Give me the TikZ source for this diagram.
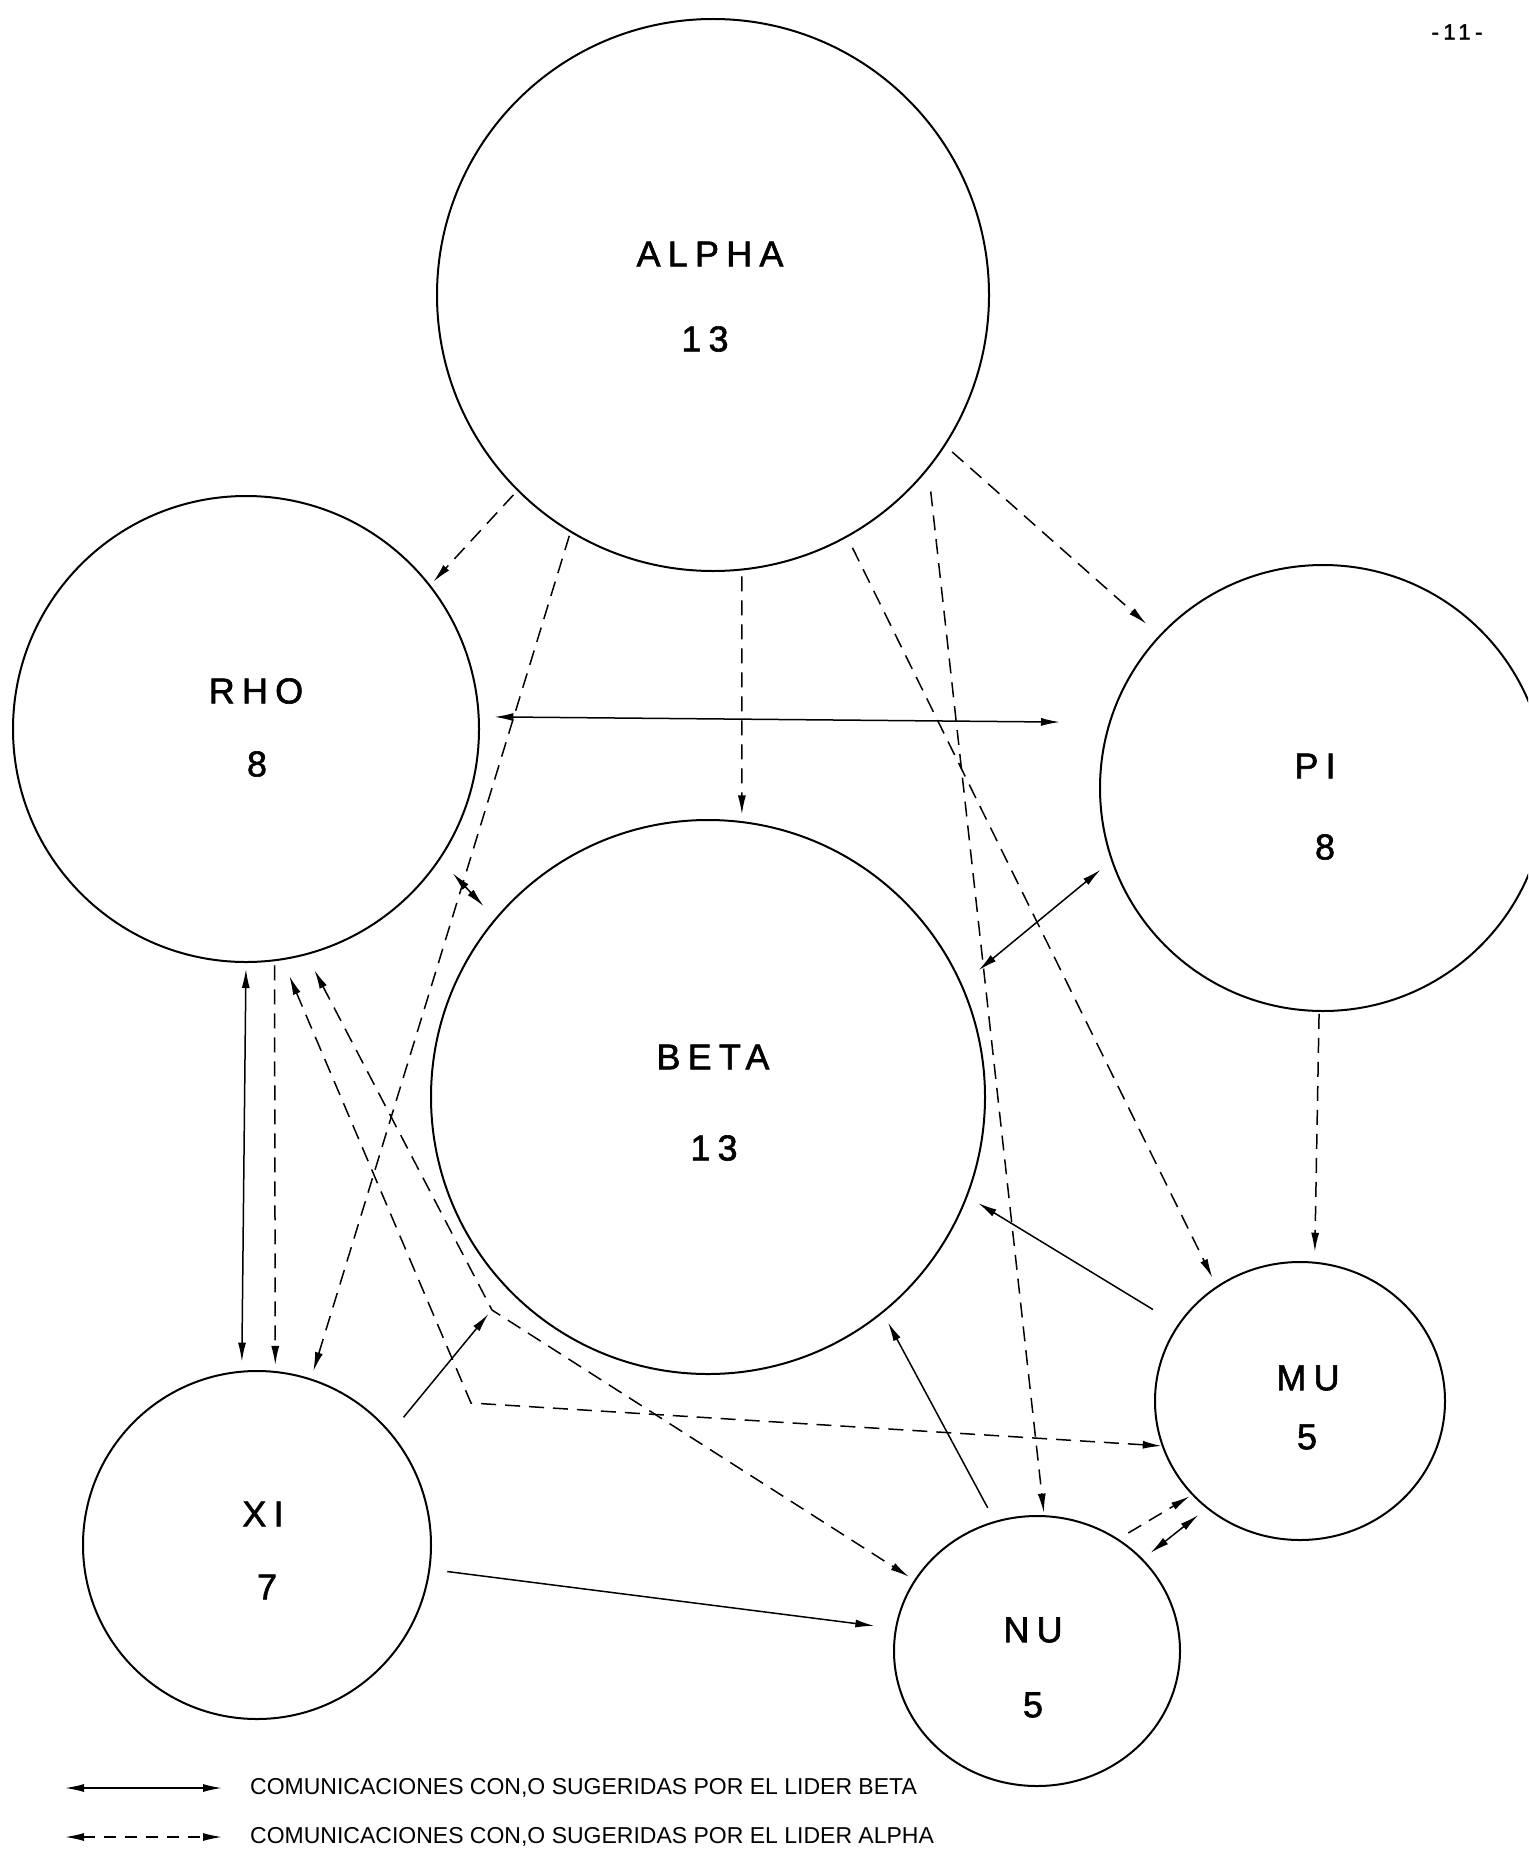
\documentclass[tikz,border=0pt]{standalone}
\usepackage{fontspec}
\setmainfont{Liberation Sans}
\newfontfamily\grpfont[LetterSpace=20,FakeBold=1.6]{Liberation Sans}
\usetikzlibrary{arrows.meta,shapes.geometric}

\tikzset{
  >={Latex[length=19pt,width=8pt]},
  grp/.style={draw, circle, line width=2pt, inner sep=0pt, minimum size=#1},
  grpo/.style 2 args={draw, ellipse, line width=2pt, inner sep=0pt, minimum width=#1, minimum height=#2},
  grptxt/.style={inner sep=0pt, font=\grpfont\fontsize{36}{36}\selectfont},
  sol/.style={line width=1.5pt},
  das/.style={line width=1.5pt, dash pattern=on 15pt off 9pt},
  legtxt/.style={anchor=west, inner sep=0pt, font=\fontsize{23}{23}\selectfont},
}

\begin{document}
\begin{tikzpicture}[x=1pt, y=-1pt]
  \useasboundingbox (0,0) rectangle (1528,1854);
  \clip (0,0) rectangle (1528,1854);

  % groups
  \node[grp=552] (alpha) at (713,295) {};
  \node[grp=466] (rho) at (246,729) {};
  \node[grp=446] (pi) at (1323,788) {};
  \node[grp=554] (beta) at (708,1097) {};
  \node[grp=348] (xi) at (257,1545) {};
  \node[grpo={290}{278}] (mu) at (1300,1401) {};
  \node[grpo={286}{270}] (nu) at (1037,1651) {};

  \node[grptxt] (alphaName) at (710,254) {ALPHA};
  \node[grptxt] (alphaNum) at (705,339) {13};
  \node[grptxt] (rhoName) at (256,691) {RHO};
  \node[grptxt] (rhoNum) at (257,764) {8};
  \node[grptxt] (piName) at (1315,766) {PI};
  \node[grptxt] (piNum) at (1325,847) {8};
  \node[grptxt] (betaName) at (713,1057) {BETA};
  \node[grptxt] (betaNum) at (714,1148) {13};
  \node[grptxt] (xiName) at (263,1514) {XI};
  \node[grptxt] (xiNum) at (267,1587) {7};
  \node[grptxt] (muName) at (1308,1378) {MU};
  \node[grptxt] (muNum) at (1307,1437) {5};
  \node[grptxt] (nuName) at (1033,1630) {NU};
  \node[grptxt] (nuNum) at (1033,1705) {5};

  \node[grptxt, font=\grpfont\fontsize{22}{22}\selectfont] (pageNo) at (1457,32) {-11-};

  % leader beta
  \draw[sol, <->, shorten <=14.6pt, shorten >=48.8pt] (rho.3.9) -- (pi.163.9);
  \draw[sol, <->, shorten <=18.3pt, shorten >=16.5pt] (rho.-34.7) -- (beta.140.9);
  \draw[sol, <->, shorten <=13.7pt, shorten >=21.4pt] (pi.-161.3) -- (beta.24.9);
  \draw[sol, ->, shorten <=29pt, shorten >=12.3pt] (mu.148.5) -- (beta.-21.1);
  \draw[sol, ->, shorten <=15pt, shorten >=10.7pt] (nu.108.3) -- (beta.-51.1);
  \draw[sol, ->, shorten <=19.7pt, shorten >=30.7pt] (xi.40.5) -- (beta.-136);
  \draw[sol, ->, shorten <=17.1pt, shorten >=20.8pt] (xi.-8.6) -- (nu.171.8);
  \draw[sol, <->, shorten <=6pt, shorten >=9pt] (rho.-90.7) -- (xi.95.6);
  \draw[sol, <->, shorten <=9.7pt, shorten >=10.3pt] (nu.41.7) -- (mu.-131);

  % leader alpha
  \coordinate (bendA) at (471,1403);
  \coordinate (bendB) at (492,1310);
  \draw[das, ->, shorten <=5.5pt, shorten >=4.2pt] (alpha.-135.6) -- (rho.38.1);
  \draw[das, ->, shorten <=3.5pt, shorten >=7.8pt] (alpha.-121) -- (xi.72);
  \draw[das, ->, shorten <=6pt, shorten >=6.6pt] (alpha.-84.2) -- (beta.83.8);
  \draw[das, ->, shorten <=9.2pt, shorten >=17pt] (alpha.-33.9) -- (pi.137.8);
  \draw[das, ->, shorten <=11.7pt, shorten >=9.4pt] (alpha.-61.5) -- (mu.126.4);
  \draw[das, ->, shorten <=22.3pt, shorten >=2.6pt] (alpha.-39.3) -- (nu.87);
  \draw[das, ->, shorten <=2pt, shorten >=10pt] (pi.-91.8) -- (mu.84.2);
  \draw[das, ->, shorten <=4pt, shorten >=6pt] (rho.-83.1) -- (xi.84.1);
  \draw[das, ->, shorten <=11.5pt, shorten >=2.5pt] (nu.54.3) -- (mu.-139.9);
  \draw[das, <->, shorten <=17pt, shorten >=6pt] (rho.-75.8) -- (bendB) -- (nu.150.8);
  \draw[das, <->, shorten <=17.2pt] (rho.-81) -- (bendA) -- (mu.-162.7);

  % legend
  \coordinate (keyB0) at (65,1788);
  \coordinate (keyB1) at (222,1788);
  \coordinate (keyA0) at (65,1837);
  \coordinate (keyA1) at (222,1837);
  \draw[sol, <->] (keyB0) -- (keyB1);
  \draw[das, <->, dash pattern=on 12pt off 9pt] (keyA0) -- (keyA1);
  \node[legtxt] (keyBtxt) at (250,1788) {COMUNICACIONES CON,O SUGERIDAS POR EL LIDER BETA};
  \node[legtxt] (keyAtxt) at (250,1837) {COMUNICACIONES CON,O SUGERIDAS POR EL LIDER ALPHA};
\end{tikzpicture}
\end{document}
